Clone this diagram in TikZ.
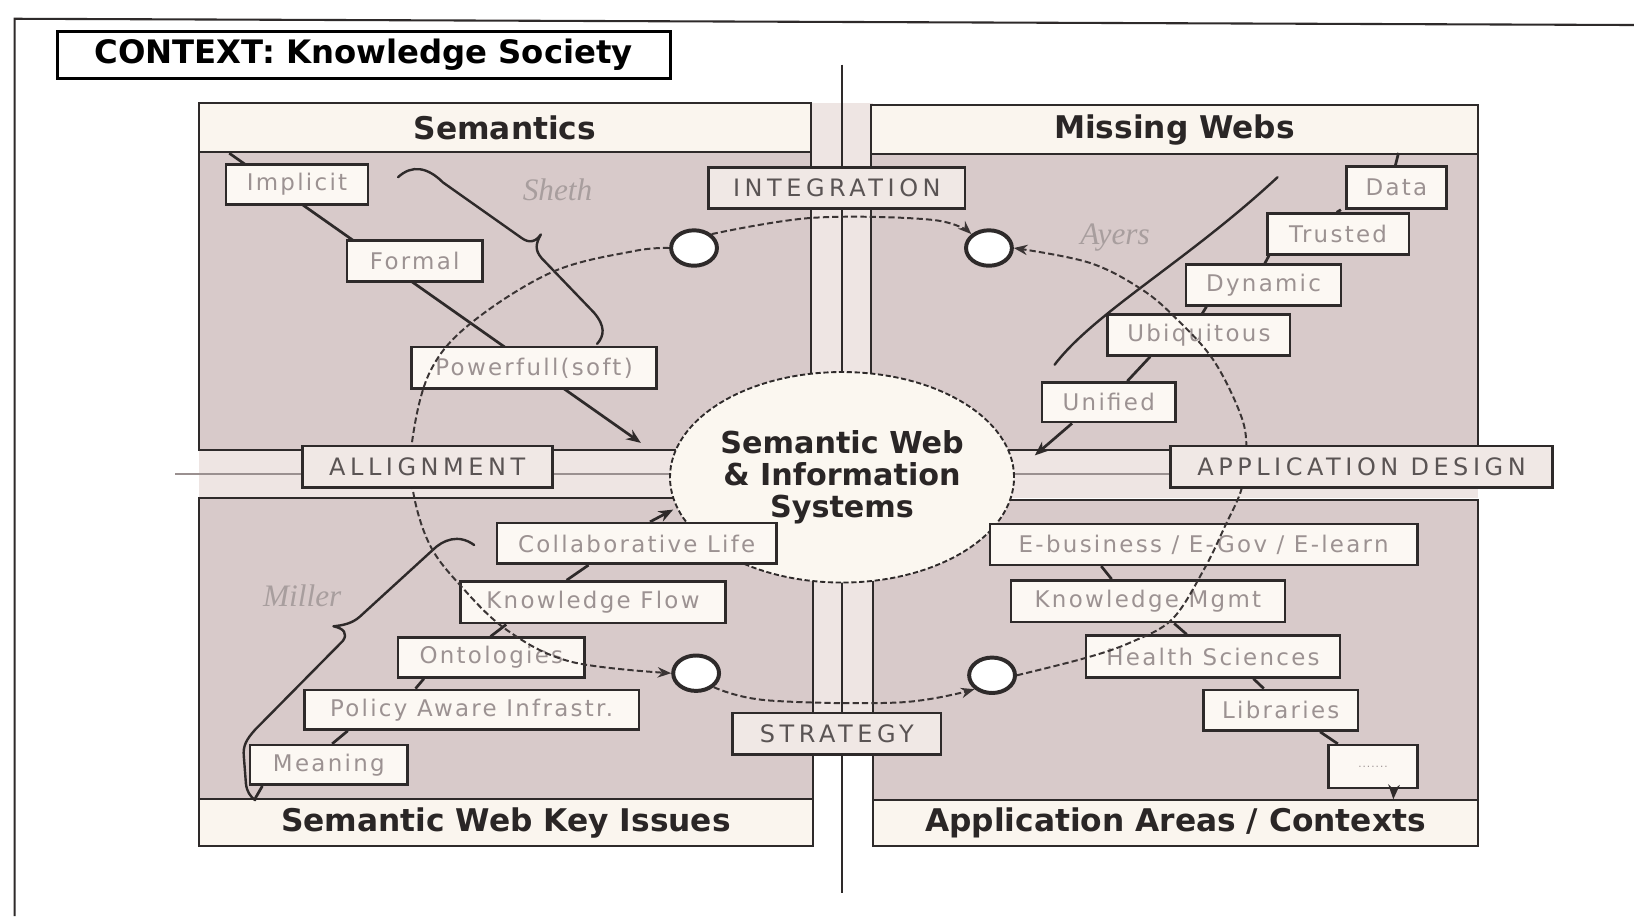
\documentclass[tikz,border=0pt]{standalone}
\usepackage{fontspec}
\setmainfont{DejaVu Sans}
\newfontfamily\lblfont[LetterSpace=10]{DejaVu Sans}
\newfontfamily\axfont[LetterSpace=19]{DejaVu Sans}
\newfontfamily\notefont{Liberation Serif}
\usetikzlibrary{shapes.geometric,arrows.meta,calc}
\definecolor{linec}{HTML}{2E2A2A}
\definecolor{quadc}{HTML}{D8CACA}
\definecolor{bandc}{HTML}{EEE5E3}
\definecolor{hdrc}{HTML}{FAF5EE}
\definecolor{boxc}{HTML}{FCF8F3}
\definecolor{axfill}{HTML}{F0E8E5}
\definecolor{lbltext}{HTML}{9C9292}
\definecolor{axtext}{HTML}{5A5454}
\definecolor{hdrtext}{HTML}{2A2626}
\definecolor{notec}{HTML}{A89E9E}
\definecolor{cycc}{HTML}{3A3434}
\definecolor{hlinec}{HTML}{9A9090}
\definecolor{corec}{HTML}{FBF7F0}
\begin{document}
\begin{tikzpicture}[x=1pt,y=-1pt,
  quad/.style={draw=linec, line width=2pt, fill=quadc, inner sep=0pt},
  hdr/.style={draw=linec, line width=2pt, fill=hdrc, inner sep=0pt, text=hdrtext,
    font=\bfseries\fontsize{30}{34}\selectfont},
  lbl/.style={draw=linec, line width=2.5pt, fill=boxc, inner sep=0pt, text=lbltext,
    font=\lblfont\fontsize{22}{24}\selectfont},
  axl/.style={draw=linec, line width=2.5pt, fill=axfill, inner sep=0pt, text=axtext,
    font=\axfont\fontsize{23}{26}\selectfont},
  hole/.style={ellipse, draw=linec, line width=3.8pt, fill=white, minimum width=44pt,
    minimum height=34pt, inner sep=0pt},
  link/.style={draw=linec, line width=2.6pt},
  arr/.style={link, -{Stealth[length=14pt,width=11pt]}},
  cyc/.style={draw=cycc, line width=1.9pt, dash pattern=on 6pt off 3pt},
  cycarr/.style={cyc, -{Stealth[length=13pt,width=10pt]}},
  brace/.style={draw=linec, line width=2.3pt, line join=round, line cap=round},
  note/.style={text=notec, font=\notefont\itshape\fontsize{30}{34}\selectfont},
]
\useasboundingbox (0,0) rectangle (1568,879);
\fill[white] (0,0) rectangle (1568,879);

% outer frame
\coordinate (fa) at (14,879);
\coordinate (fb) at (14,18);
\coordinate (fc) at (1568,24);
\draw[linec, line width=2pt] (fa) -- (fb) -- (fc);

% context box
\node[draw=black, line width=2.8pt, fill=white, minimum width=588pt, minimum height=45pt,
  inner sep=0pt, font=\bfseries\fontsize{31}{33}\selectfont] (ctx) at (349,52.5)
  {CONTEXT: Knowledge Society};

% bands between quadrants
\fill[bandc] (778,99) rectangle (838,724);
\fill[bandc] (191,432) rectangle (1418,478);
\coordinate (va) at (808,62);
\coordinate (vb) at (808,857);
\coordinate (ha) at (168,455);
\coordinate (hb) at (1490,455);
\draw[hlinec, line width=1.4pt] (ha) -- (hb);
\draw[linec, line width=2.6pt] (va) -- (vb);

% quadrants
\node[quad, minimum width=587pt, minimum height=333pt] (qtl) at (484.5,265.5) {};
\node[hdr, minimum width=587pt, minimum height=47pt] (htl) at (484.5,122.5) {Semantics};
\node[quad, minimum width=582pt, minimum height=331pt] (qtr) at (1127,266.5) {};
\node[hdr, minimum width=582pt, minimum height=47pt] (htr) at (1127,124.5) {Missing Webs};
\node[quad, minimum width=589pt, minimum height=334pt] (qbl) at (485.5,645) {};
\node[hdr, minimum width=589pt, minimum height=45pt] (hbl) at (485.5,789.5) {Semantic Web Key Issues};
\node[quad, minimum width=580pt, minimum height=332pt] (qbr) at (1128,646) {};
\node[hdr, minimum width=580pt, minimum height=44pt] (hbr) at (1128,790) {Application Areas / Contexts};

% core
\node[ellipse, draw=linec, line width=1.8pt, dash pattern=on 5pt off 2.5pt, fill=corec,
  minimum width=308pt, minimum height=202pt, inner sep=0pt, align=center, text=hdrtext,
  font=\bfseries\fontsize{29}{31}\selectfont] (core) at (808,458)
  {Semantic Web\\\& Information\\Systems};

% top-left chain arrow (behind the boxes)
\coordinate (s0) at (220,147);
\coordinate (s1) at (615,425);
\draw[arr] (s0) -- (s1);

% label boxes: top-left
\node[lbl, minimum width=136pt, minimum height=38pt] (implicit) at (285,177) {Implicit};
\node[lbl, minimum width=130pt, minimum height=39pt] (formal) at (398,250.5) {Formal};
\node[lbl, minimum width=235pt, minimum height=40pt] (power) at (512.5,353) {Powerfull(soft)};

% label boxes: top-right
\node[lbl, minimum width=96pt, minimum height=40pt] (data) at (1340,180) {Data};
\node[lbl, minimum width=136pt, minimum height=39pt] (trusted) at (1284,224.5) {Trusted};
\node[lbl, minimum width=149pt, minimum height=39pt] (dynamic) at (1212.5,273.5) {Dynamic};
\node[lbl, minimum width=175pt, minimum height=39pt] (ubiq) at (1150.5,321.5) {Ubiquitous};
\node[lbl, minimum width=128pt, minimum height=38pt] (unified) at (1064,386) {Unified};
\coordinate (ur) at (993,437);
\draw[link] ($(data.north)+(-1,0)$) -- ($(data.north)+(2,-12)$);
\draw[link] ($(data.south west)+(-4,0)$) -- ($(trusted.north west)+(68,0)$);
\draw[link] ($(trusted.south west)+(3,0)$) -- ($(dynamic.north west)+(77,0)$);
\draw[link] ($(dynamic.south west)+(21,0)$) -- ($(ubiq.north west)+(92,0)$);
\draw[link] ($(ubiq.south west)+(42,0)$) -- ($(unified.north west)+(83,0)$);
\draw[arr] ($(unified.south west)+(30,0)$) -- (ur);

% label boxes: bottom-left
\node[lbl, minimum width=268pt, minimum height=39pt] (collab) at (611,521.5) {Collaborative Life};
\node[lbl, minimum width=254pt, minimum height=40pt] (kflow) at (569,578) {Knowledge Flow};
\node[lbl, minimum width=179pt, minimum height=38pt] (onto) at (471.5,631) {Ontologies};
\node[lbl, minimum width=321pt, minimum height=38pt] (policy) at (452.5,681) {Policy Aware Infrastr.};
\node[lbl, minimum width=151pt, minimum height=38pt] (meaning) at (315.5,734) {Meaning};
\coordinate (bl) at (646,489);
\draw[link] ($(meaning.south west)+(13,0)$) -- ($(hbl.north west)+(55,0)$);
\draw[link] ($(meaning.north west)+(80,0)$) -- ($(policy.south west)+(43,0)$);
\draw[link] ($(policy.north west)+(108,0)$) -- ($(onto.south west)+(26,0)$);
\draw[link] ($(onto.north west)+(90,0)$) -- ($(kflow.south west)+(45,0)$);
\draw[link] ($(kflow.north west)+(103,0)$) -- ($(collab.south west)+(89,0)$);
\draw[arr] ($(collab.north west)+(148,0)$) -- (bl);

% label boxes: bottom-right
\node[lbl, minimum width=410pt, minimum height=39pt] (ebus) at (1155,522.5) {E-business / E-Gov / E-learn};
\node[lbl, minimum width=263pt, minimum height=40pt] (kmgmt) at (1101.5,577) {Knowledge Mgmt};
\node[lbl, minimum width=244pt, minimum height=40pt] (health) at (1164,630) {Health Sciences};
\node[lbl, minimum width=148pt, minimum height=39pt] (libs) at (1229,681.5) {Libraries};
\node[lbl, minimum width=85pt, minimum height=41pt, font=\lblfont\fontsize{10}{12}\selectfont] (dots) at (1317.5,735.5) {.......};
\draw[link] ($(ebus.south west)+(108,0)$) -- ($(kmgmt.north west)+(98,0)$);
\draw[link] ($(kmgmt.south west)+(158,0)$) -- ($(health.north west)+(98,0)$);
\draw[link] ($(health.south west)+(162,0)$) -- ($(libs.north west)+(59,0)$);
\draw[link] ($(libs.south west)+(113,0)$) -- ($(dots.north west)+(10,0)$);
\draw[arr] ($(dots.south)+(20,0)$) -- ($(hbr.north west)+(500,0)$);

% author notes and braces
\node[note] (sheth) at (535,182) {Sheth};
\node[note] (ayers) at (1070,228) {Ayers};
\node[note] (miller) at (290,572) {Miller};
\draw[brace] (382,170) .. controls (395,158) and (410,160) .. (425,175)
  -- (500,228) .. controls (508,234) and (514,232) .. (519,225)
  .. controls (514,234) and (513,240) .. (520,248)
  -- (570,300) .. controls (581,313) and (580,322) .. (573,330);
\draw[brace] (455,523) .. controls (440,512) and (425,518) .. (415,528)
  -- (345,592) .. controls (338,598) and (330,600) .. (320,601)
  .. controls (330,603) and (334,608) .. (329,615)
  -- (245,700) .. controls (236,710) and (233,716) .. (234,726)
  -- (236,752) .. controls (237,760) and (240,764) .. (245,768);
\draw[brace] (1226,170) .. controls (1140,250) and (1050,300) .. (1012,350);

% small circles of the cycle
\node[hole] (ctl) at (666,238) {};
\node[hole] (ctr) at (949,238) {};
\node[hole] (cbl) at (668,646) {};
\node[hole] (cbr) at (952,648) {};

% the dashed cycle
\draw[cycarr] plot[smooth, tension=0.6] coordinates {(ctl.west) (608,241) (530,261) (452,310)
  (413,356) (396,420) (396,469) (412,522) (442,562) (487,605) (548,635) (cbl.west)};
\draw[cycarr] plot[smooth, tension=0.6] coordinates {(cbl.south east) (736,672) (864,674) (cbr.south west)};
\draw[cycarr] plot[smooth, tension=0.6] coordinates {(cbr.east) (1043,631) (1086,616) (1125,594)
  (1155,547) (1175,506) (1192,467) (1196,426) (1189,394) (1164,345) (1130,307) (1096,278)
  (1045,252) (ctr.east)};
\draw[cycarr] plot[smooth, tension=0.6] coordinates {(ctl.north east) (780,209) (895,211) (ctr.north west)};

% axis labels
\node[axl, minimum width=246pt, minimum height=39pt] (integ) at (803,180.5) {INTEGRATION};
\node[axl, minimum width=240pt, minimum height=40pt] (align) at (410,448) {ALLIGNMENT};
\node[axl, minimum width=367pt, minimum height=40pt] (appdes) at (1306.5,448) {APPLICATION DESIGN};
\node[axl, minimum width=200pt, minimum height=40pt] (strat) at (803,704) {STRATEGY};
\end{tikzpicture}
\end{document}
